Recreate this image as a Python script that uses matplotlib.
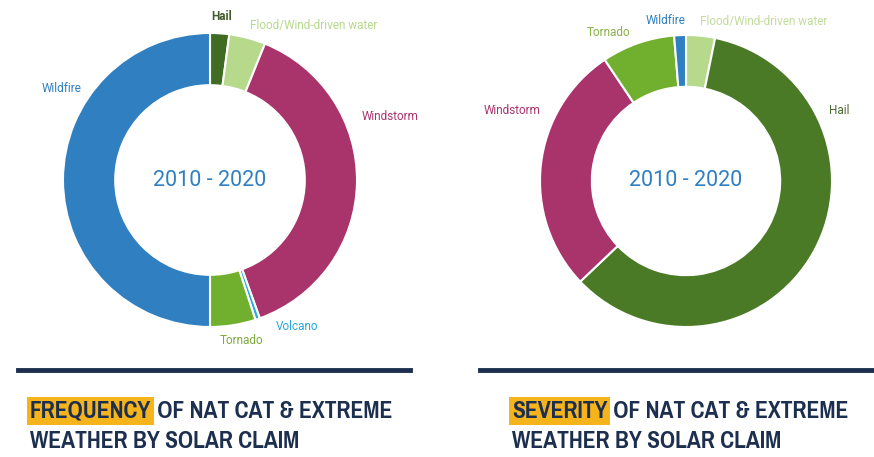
import matplotlib.pyplot as plt
from matplotlib import font_manager

W, H = 874, 457

# frequency donut (clockwise from 12 o'clock)
freq_labels = ["Hail", "Flood/Wind-driven water", "Windstorm", "Volcano", "Tornado", "Wildfire"]
freq_values = [2.1, 4.0, 38.4, 0.5, 5.0, 50.0]
freq_colors = ["#3f6b23", "#b6d98c", "#a9346c", "#2aa9df", "#70b02e", "#2f7fc1"]

# severity donut (clockwise from 12 o'clock)
sev_labels = ["Flood/Wind-driven water", "Hail", "Windstorm", "Tornado", "Wildfire"]
sev_values = [3.2, 59.7, 27.7, 8.1, 1.3]
sev_colors = ["#b6d98c", "#4a7a25", "#a9346c", "#70b02e", "#2f7fc1"]

center_text = "2010 - 2020"
title_hl = ["FREQUENCY", "SEVERITY"]
title_rest = " OF NAT CAT & EXTREME"
title_line2 = "WEATHER BY SOLAR CLAIM"

# look for a condensed / narrow bold face for the titles
cond_file = None
for key in ["Narrow-Bold", "SansCondensed-Bold", "Condensed-Bold", "Narrow", "Condensed"]:
    hits = [f.fname for f in font_manager.fontManager.ttflist if key in f.fname]
    if hits:
        cond_file = sorted(hits)[0]
        break
if cond_file:
    tfont = font_manager.FontProperties(fname=cond_file, size=18.5)
else:
    tfont = font_manager.FontProperties(family="Roboto", weight="bold", size=15)
navy = "#1c2f4f"

fig = plt.figure(figsize=(W / 100, H / 100), dpi=100)


def px(x, y):
    return x / W, 1 - y / H


def donut(cx, cy, r, vals, cols):
    ax = fig.add_axes([(cx - r) / W, (H - cy - r) / H, 2 * r / W, 2 * r / H])
    ax.pie(vals, colors=cols, startangle=90, counterclock=False, radius=1,
           wedgeprops=dict(width=0.355, edgecolor="white", linewidth=1.5))
    ax.set_xlim(-1, 1)
    ax.set_ylim(-1, 1)
    ax.set_aspect("auto")
    ax.axis("off")
    ax.text(0, 0, center_text, ha="center", va="center", fontsize=15.5,
            color="#2f7fc1", family="Roboto")
    return ax


donut(210, 180, 147, freq_values, freq_colors)
donut(686, 181, 146, sev_values, sev_colors)

lab = dict(fontsize=8.5, family="Roboto")
# frequency labels
fig.text(*px(222, 16), "Hail", ha="center", va="center", color="#3f5a2a", weight="bold", **lab)
fig.text(*px(250, 26), "Flood/Wind-driven water", ha="left", va="center", color="#b6d98c", **lab)
fig.text(*px(62, 89), "Wildfire", ha="center", va="center", color="#2f7fc1", **lab)
fig.text(*px(390, 116), "Windstorm", ha="center", va="center", color="#a9346c", **lab)
fig.text(*px(297, 326), "Volcano", ha="center", va="center", color="#2aa9df", **lab)
fig.text(*px(241, 341), "Tornado", ha="center", va="center", color="#7ea93f", **lab)
# severity labels
fig.text(*px(608, 32), "Tornado", ha="center", va="center", color="#8ab04a", **lab)
fig.text(*px(666, 20), "Wildfire", ha="center", va="center", color="#2f7fc1", **lab)
fig.text(*px(700, 22), "Flood/Wind-driven water", ha="left", va="center", color="#c3dc9e", **lab)
fig.text(*px(512, 110), "Windstorm", ha="center", va="center", color="#a9346c", **lab)
fig.text(*px(839, 110), "Hail", ha="center", va="center", color="#4a6a33", **lab)

# divider lines
for x0, x1 in [(18, 410), (480, 872)]:
    fig.add_artist(plt.Line2D([x0 / W, x1 / W], [1 - 370 / H] * 2, color=navy, lw=3.5))

# titles
for x0, hl in [(30, title_hl[0]), (512, title_hl[1])]:
    t = fig.text(*px(x0, 411), hl, ha="left", va="center", color=navy,
                 fontproperties=tfont,
                 bbox=dict(boxstyle="square,pad=0.12", fc="#f5b31c", ec="none"))
    fig.canvas.draw()
    bb = t.get_window_extent()
    fig.text(bb.x1 / W + 1 / W, 1 - 411 / H, title_rest, ha="left", va="center",
             color=navy, fontproperties=tfont)
    fig.text(*px(x0, 441), title_line2, ha="left", va="center", color=navy,
             fontproperties=tfont)

fig.savefig("out.png", dpi=100)
